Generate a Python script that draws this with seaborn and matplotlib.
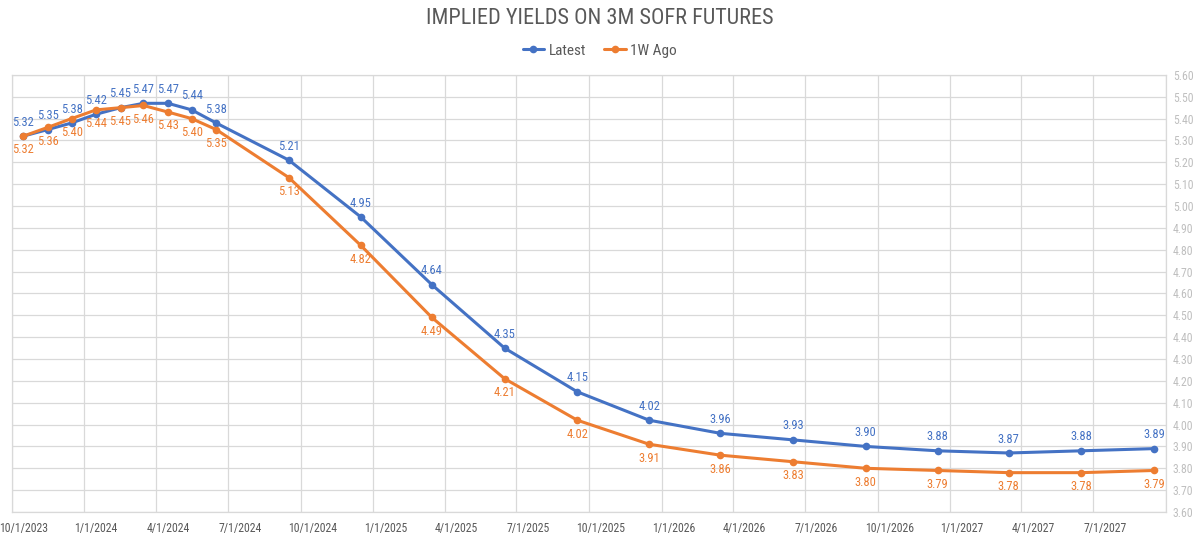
import pandas as pd
import seaborn as sns
from matplotlib import pyplot as plt

# contract months (first of month) and implied yields
months = ["2023-10-01", "2023-11-01", "2023-12-01", "2024-01-01", "2024-02-01",
          "2024-03-01", "2024-04-01", "2024-05-01", "2024-06-01", "2024-09-01",
          "2024-12-01", "2025-03-01", "2025-06-01", "2025-09-01", "2025-12-01",
          "2026-03-01", "2026-06-01", "2026-09-01", "2026-12-01", "2027-03-01",
          "2027-06-01", "2027-09-01"]
latest = [5.32, 5.35, 5.38, 5.42, 5.45, 5.47, 5.47, 5.44, 5.38, 5.21, 4.95,
          4.64, 4.35, 4.15, 4.02, 3.96, 3.93, 3.90, 3.88, 3.87, 3.88, 3.89]
week_ago = [5.32, 5.36, 5.40, 5.44, 5.45, 5.46, 5.43, 5.40, 5.35, 5.13, 4.82,
            4.49, 4.21, 4.02, 3.91, 3.86, 3.83, 3.80, 3.79, 3.78, 3.78, 3.79]
series_names = ["Latest", "1W Ago"]
colors = ["#4472C4", "#ED7D31"]

dates = pd.to_datetime(months)
df = pd.DataFrame({
    "date": list(dates) * 2,
    "yield": latest + week_ago,
    "series": [series_names[0]] * len(months) + [series_names[1]] * len(months),
})
# excel style: each point sits in the middle of its month slot
df["xpos"] = df["date"] + pd.Timedelta(days=15)

sns.set_theme(style="white")
plt.rcParams["font.family"] = ["Roboto Condensed", "Liberation Sans Narrow",
                               "Roboto", "DejaVu Sans"]

fig = plt.figure(figsize=(12, 5.35), dpi=100)
ax = fig.add_axes([0.0096, 0.043, 0.962, 0.817])

sns.lineplot(data=df, x="xpos", y="yield", hue="series", palette=colors,
             marker="o", markersize=5.5, markeredgewidth=0, linewidth=2.2,
             legend=False, ax=ax)

# data labels: latest above, 1W ago below
for vals, col, off in [(latest, colors[0], 10), (week_ago, colors[1], -10)]:
    for d, v in zip(dates, vals):
        ax.annotate(f"{v:.2f}", (d + pd.Timedelta(days=15), v),
                    xytext=(0, off), textcoords="offset points",
                    ha="center", va="center", fontsize=9, color=col)

# axes ranges
ax.set_xlim(pd.Timestamp("2023-10-01"), pd.Timestamp("2027-10-01"))
ax.set_ylim(3.6, 5.6)

# gridlines at quarter boundaries, labels centred on the month slot
qstarts = pd.date_range("2023-10-01", "2027-10-01", freq="QS-OCT")
ax.set_xticks(qstarts)
ax.set_xticklabels([])
ax.set_xticks(qstarts[:-1] + pd.Timedelta(days=15), minor=True)
ax.set_xticklabels([f"{d.month}/{d.day}/{d.year}" for d in qstarts[:-1]],
                   minor=True)
ax.tick_params(axis="x", which="both", length=0, pad=7)
ax.tick_params(axis="x", which="minor", labelsize=8.5, labelcolor="#595959")

ax.yaxis.tick_right()
ax.set_yticks([round(3.6 + 0.1 * i, 2) for i in range(21)])
ax.yaxis.set_major_formatter(plt.FormatStrFormatter("%.2f"))
ax.tick_params(axis="y", length=0, pad=5, labelsize=8.5, labelcolor="#BFBFBF")

ax.grid(True, which="major", color="#D9D9D9", linewidth=0.9)
for s in ax.spines.values():
    s.set_color("#D9D9D9")
    s.set_linewidth(0.9)
ax.set_xlabel("")
ax.set_ylabel("")

fig.suptitle("IMPLIED YIELDS ON 3M SOFR FUTURES", y=0.985, fontsize=16,
             color="#595959")
handles = ax.get_lines()[:2]
fig.legend(handles, series_names, loc="center", bbox_to_anchor=(0.5, 0.905),
           ncol=2, frameon=False, fontsize=11, labelcolor="#595959",
           handlelength=1.4, handletextpad=0.3, columnspacing=1.2)

fig.savefig("out.png", dpi=100)
